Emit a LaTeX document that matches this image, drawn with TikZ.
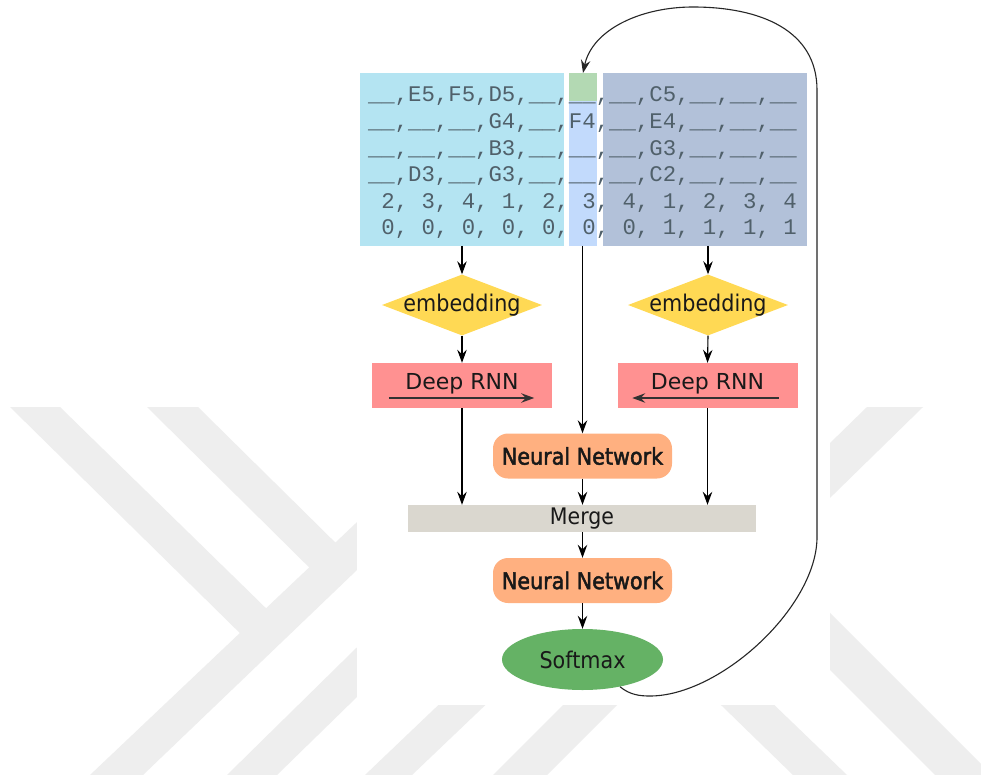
\documentclass[tikz,border=0pt]{standalone}
\usepackage{fontspec}
\usetikzlibrary{shapes.geometric,arrows.meta}
\newfontfamily\monof{Liberation Mono}
\newfontfamily\labf[FakeStretch=0.9]{DejaVu Sans}
\newfontfamily\labwf{DejaVu Sans}
\newfontfamily\labbf[FakeStretch=0.9,FakeBold=2]{DejaVu Sans}
\definecolor{wmgray}{RGB}{238,238,238}
\definecolor{cyanc}{RGB}{180,228,242}
\definecolor{greenc}{RGB}{179,217,179}
\definecolor{lblue}{RGB}{194,218,252}
\definecolor{slatec}{RGB}{178,193,217}
\definecolor{yelc}{RGB}{255,217,84}
\definecolor{pinkc}{RGB}{255,145,145}
\definecolor{orangec}{RGB}{255,176,128}
\definecolor{mergec}{RGB}{218,215,207}
\definecolor{smc}{RGB}{101,178,101}
\definecolor{rowc}{RGB}{80,96,106}
\definecolor{txtc}{RGB}{25,25,25}
\definecolor{darkg}{RGB}{50,50,50}
\tikzset{
  wm/.style={fill=wmgray},
  inbox/.style={rectangle, draw=none, inner sep=0pt, outer sep=0pt, anchor=north west},
  rowtxt/.style={anchor=base west, inner sep=0pt, outer sep=0pt, text=rowc,
    font=\monof\fontsize{22.33}{26}\selectfont},
  lab/.style={inner sep=0pt, text=txtc, font=\labf\fontsize{23}{26}\selectfont},
  rnnlab/.style={inner sep=0pt, text=txtc, font=\labwf\fontsize{22}{26}\selectfont},
  embed/.style={diamond, fill=yelc, minimum width=160pt, minimum height=61pt, inner sep=0pt},
  rnn/.style={rectangle, fill=pinkc, minimum width=180pt, minimum height=45pt, inner sep=0pt},
  nnet/.style={rectangle, rounded corners=15pt, fill=orangec, minimum width=179pt,
    minimum height=45pt, inner sep=0pt, text=txtc, font=\labbf\fontsize{23}{26}\selectfont},
  mergebox/.style={rectangle, fill=mergec, minimum width=348pt, minimum height=27pt,
    inner sep=0pt, text=txtc, font=\labf\fontsize{22.8}{26}\selectfont},
  smax/.style={ellipse, fill=smc, minimum width=161pt, minimum height=61pt, inner sep=0pt,
    text=txtc, font=\labf\fontsize{23}{26}\selectfont},
  conn/.style={draw=black, line width=1.1pt, -{Stealth[length=13pt,width=9.5pt,inset=4.5pt]}},
  inarrow/.style={draw=darkg, line width=1.1pt, -{Stealth[length=13pt,width=9.5pt,inset=4.5pt]}},
  fb/.style={draw=black!85, line width=1.1pt, -{Stealth[length=13pt,width=9.5pt,inset=4.5pt]}},
}
\begin{document}
\frenchspacing
\begin{tikzpicture}[x=1pt,y=-1pt]
\useasboundingbox (0,0) rectangle (981,775);
\fill[white] (0,0) rectangle (981,775);
% watermark
\fill[wm] (10,407) -- (60,407) -- (275,617) -- (250,643) -- cycle;
\fill[wm] (147,407) -- (198,407) -- (350,557) -- (327,585) -- cycle;
\fill[wm] (90,775) -- (143,775) -- (500,433) -- (450,434) -- cycle;
\fill[wm] (227,775) -- (277,775) -- (400,655) -- (400,605) -- cycle;
\fill[wm] (365,775) -- (412,775) -- (520,672) -- (473,672) -- cycle;
\fill[wm] (493,775) -- (547,775) -- (650,672) -- (596,672) -- cycle;
\fill[wm] (793,775) -- (847,775) -- (740,672) -- (687,672) -- cycle;
\fill[wm] (867,407) -- (923,407) -- (790,537) -- (790,482) -- cycle;
\fill[wm] (790,573) -- (981,764) -- (981,775) -- (935,775) -- (790,630) -- cycle;
\fill[white] (357,0) rectangle (830,705);

% input boxes
\node[inbox, fill=cyanc, minimum width=204pt, minimum height=173pt] (inL) at (360,73) {};
\node[inbox, fill=greenc, minimum width=28pt, minimum height=28pt] (tgt) at (569,73) {};
\node[inbox, fill=lblue, minimum width=28pt, minimum height=145pt] (cur) at (569,101) {};
\node[inbox, fill=slatec, minimum width=204pt, minimum height=173pt] (inR) at (603,73) {};

% rows
\node[rowtxt] (r1) at (368,102) {\_\_,E5,F5,D5,\_\_,\_\_,\_\_,C5,\_\_,\_\_,\_\_};
\node[rowtxt] (r2) at (368,128.6) {\_\_,\_\_,\_\_,G4,\_\_,F4,\_\_,E4,\_\_,\_\_,\_\_};
\node[rowtxt] (r3) at (368,155.2) {\_\_,\_\_,\_\_,B3,\_\_,\_\_,\_\_,G3,\_\_,\_\_,\_\_};
\node[rowtxt] (r4) at (368,181.8) {\_\_,D3,\_\_,G3,\_\_,\_\_,\_\_,C2,\_\_,\_\_,\_\_};
\node[rowtxt] (r5) at (368,208.4) {\ 2, 3, 4, 1, 2, 3, 4, 1, 2, 3, 4};
\node[rowtxt] (r6) at (368,235) {\ 0, 0, 0, 0, 0, 0, 0, 1, 1, 1, 1};

% embeddings
\node[embed, label={[lab]center:embedding}] (e1) at (462,305) {};
\node[embed, label={[lab]center:embedding}] (e2) at (708,305) {};

% RNNs
\node[rnn, label={[rnnlab, yshift=2pt]center:Deep RNN}] (rl) at (462,385.5) {};
\node[rnn, label={[rnnlab, yshift=2pt]center:Deep RNN}] (rr) at (707.5,385.5) {};
\draw[inarrow] ([xshift=17pt,yshift=-12.5pt]rl.west) -- ([xshift=-18pt,yshift=-12.5pt]rl.east);
\draw[inarrow] ([xshift=-19pt,yshift=-12.5pt]rr.east) -- ([xshift=15pt,yshift=-12.5pt]rr.west);

% center stack
\node[nnet] (nn1) at (582.5,456) {Neural Network};
\node[mergebox] (mg) at (582,518.5) {Merge};
\node[nnet] (nn2) at (582.5,580.5) {Neural Network};
\node[smax] (sm) at (582.5,659.5) {Softmax};

% connectors
\draw[conn] (e1.north |- inL.south) -- (e1.north);
\draw[conn] (e1.south) -- (rl.north);
\draw[conn] (rl.south) -- (rl.south |- mg.north);
\draw[conn] (e2.north |- inR.south) -- (e2.north);
\draw[conn] (e2.south) -- (rr.north);
\draw[conn] (rr.south) -- (rr.south |- mg.north);
\draw[conn] (nn1.north |- cur.south) -- (nn1.north);
\draw[conn] (nn1.south) -- (nn1.south |- mg.north);
\draw[conn] (mg.south -| nn2.north) -- (nn2.north);
\draw[conn] (nn2.south) -- (sm.north);

% feedback
\draw[fb] (sm.-36) .. controls (630,695) and (640,696) .. (650,696)
  .. controls (720,696) and (817,607) .. (817,537) -- (817,90)
  .. controls (817,30) and (760,7) .. (693,7)
  .. controls (640,7) and (592,30) .. (tgt.north);
\end{tikzpicture}
\end{document}
